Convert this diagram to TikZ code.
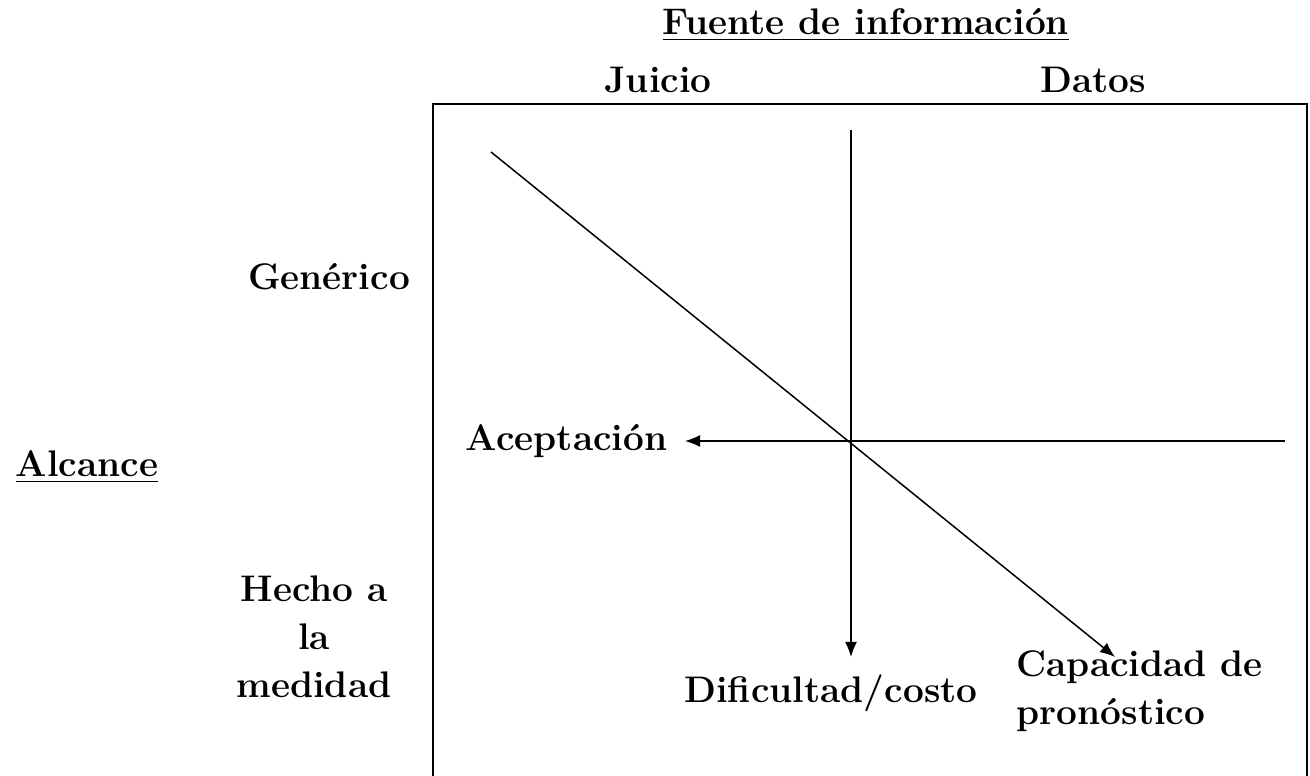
\documentclass[tikz,border=0pt]{standalone}
\usepackage{amsmath}
\usepackage{tikz}
\usetikzlibrary{positioning,arrows,arrows.meta}

\begin{document}
\begin{tikzpicture}[x=0.3pt,y=-0.3pt]
        \tikzstyle{every node}=[font=\fontsize{11.1}{14.4}\selectfont\bfseries,inner sep=0pt]
        \tikzstyle{flecha}=[-{Latex[length=4.5pt,width=3.6pt]},line width=0.45pt]
        \useasboundingbox (0,0) rectangle (1310,776);
        % marco
        \draw[line width=0.6pt] (433,104) rectangle (1307,820);
        % titulos
        \node (Fuente) at (866,25) {\underline{Fuente de información}};
        \node (Juicio) at (658,80) {Juicio};
        \node (Datos) at (1093,80) {Datos};
        \node (Generico) at (329,277) {Genérico};
        \node (Alcance) at (87,467) {\underline{Alcance}};
        \node[align=center] (Hecho) at (314,637) {Hecho a\\la\\medidad};
        % ejes
        \node[anchor=east] (Acept) at (668,441) {Aceptación};
        \node (Dific) at (831,693) {Dificultad/costo};
        \node[align=left,anchor=west] (Capac) at (1016,691) {Capacidad de\\pronóstico};
        \coordinate (arriba) at (851,130);
        \coordinate (abajo) at (851,657);
        \coordinate (der) at (1285,441);
        \coordinate (izq) at (685,441);
        \coordinate (sup) at (491,152);
        \coordinate (inf) at (1115,657);
        \draw[flecha] (arriba) -- (abajo);
        \draw[flecha] (der) -- (izq);
        \draw[flecha] (sup) -- (inf);
\end{tikzpicture}
\end{document}
